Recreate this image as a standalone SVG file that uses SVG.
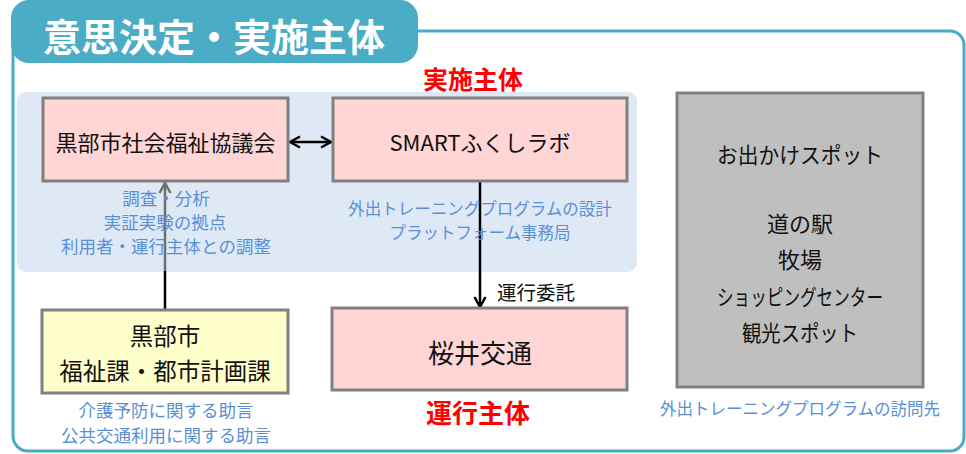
<svg xmlns="http://www.w3.org/2000/svg" width="966" height="454" viewBox="0 0 966 454">
<style>
text{font-family:"Noto Sans CJK JP","Noto Sans",sans-serif;dominant-baseline:central;text-anchor:middle}
.box{stroke:#808080;stroke-width:3}
.pink{fill:#ffd5d5}
.yel{fill:#ffffcc}
.gray{fill:#bfbfbf}
.t{fill:#111;font-size:22px}
.t24{font-size:23.5px}
.t26{font-size:26px}
.blue{fill:#5b8fd5;font-size:16.5px}
.b2{font-size:17.5px}
.red{fill:#ff0000;font-size:25px;font-weight:bold}
.conn{fill:none;stroke-width:2.5}
</style>
<defs>
<marker id="ah" viewBox="0 0 14 14" refX="12" refY="7" markerWidth="14" markerHeight="14" markerUnits="userSpaceOnUse" orient="auto-start-reverse">
<path d="M2,1.5 L12,7 L2,12.5" fill="none" stroke="#000" stroke-width="2.5"/>
</marker>
<marker id="ahg" viewBox="0 0 14 14" refX="12" refY="7" markerWidth="14" markerHeight="14" markerUnits="userSpaceOnUse" orient="auto">
<path d="M2,1.5 L12,7 L2,12.5" fill="none" stroke="#6e6e6e" stroke-width="2.5"/>
</marker>
</defs>
<rect width="966" height="454" fill="#fff"/>
<g id="frame">
<path d="M418 31 H950 A14 14 0 0 1 964 45 V437 A14 14 0 0 1 950 451 H28 A15 15 0 0 1 13 436 V50" fill="none" stroke="#4bacc6" stroke-width="3"/>
<rect x="11" y="0" width="407" height="63" rx="18" fill="#4bacc6"/>
<text x="214" y="34" fill="#fff" style="font-size:38px;font-weight:bold">意思決定・実施主体</text>
</g>
<rect id="panel" x="17" y="92" width="620" height="180" rx="9" fill="#dfe9f6"/>
<g id="connectors">
<path class="conn" d="M165 271 V183" stroke="#6e6e6e" marker-end="url(#ahg)"/>
<path class="conn" d="M165 310 V271" stroke="#000"/>
<path class="conn" d="M290 142 H331" stroke="#000" marker-start="url(#ah)" marker-end="url(#ah)"/>
<path class="conn" d="M480 182 V307" stroke="#000" marker-end="url(#ah)"/>
<text x="536" y="291" fill="#111" style="font-size:19.5px">運行委託</text>
</g>
<text class="red" x="473" y="78">実施主体</text>
<g id="node-shakyo">
<rect class="box pink" x="43" y="98" width="245" height="83"/>
<text class="t" x="165.5" y="141">黒部市社会福祉協議会</text>
<text class="blue b2" x="166" y="197">調査・分析</text>
<text class="blue b2" x="165" y="221">実証実験の拠点</text>
<text class="blue b2" x="166" y="245">利用者・運行主体との調整</text>
</g>
<g id="node-smart">
<rect class="box pink" x="333" y="98" width="294" height="83"/>
<text class="t" x="480" y="141">SMARTふくしラボ</text>
<text class="blue" x="480" y="208">外出トレーニングプログラムの設計</text>
<text class="blue" x="480" y="232">プラットフォーム事務局</text>
</g>
<g id="node-city">
<rect class="box yel" x="42" y="310" width="246" height="83"/>
<text class="t t24" x="165" y="335">黒部市</text>
<text class="t t24" x="165" y="370">福祉課・都市計画課</text>
<text class="blue b2" x="166" y="409">介護予防に関する助言</text>
<text class="blue b2" x="166" y="434">公共交通利用に関する助言</text>
</g>
<g id="node-sakurai">
<rect class="box pink" x="332" y="308" width="295" height="82"/>
<text class="t t26" x="480" y="351">桜井交通</text>
<text class="red" x="478" y="411" style="font-size:26px">運行主体</text>
</g>
<g id="node-spots">
<rect class="box gray" x="677" y="93" width="246" height="294"/>
<text class="t" x="800" y="153" textLength="166" lengthAdjust="spacingAndGlyphs">お出かけスポット</text>
<text class="t" x="800" y="222">道の駅</text>
<text class="t" x="800" y="258">牧場</text>
<text class="t" x="800" y="295" textLength="166" lengthAdjust="spacingAndGlyphs">ショッピングセンター</text>
<text class="t" x="800" y="331" textLength="116" lengthAdjust="spacingAndGlyphs">観光スポット</text>
<text class="blue" x="800" y="408">外出トレーニングプログラムの訪問先</text>
</g>
</svg>
